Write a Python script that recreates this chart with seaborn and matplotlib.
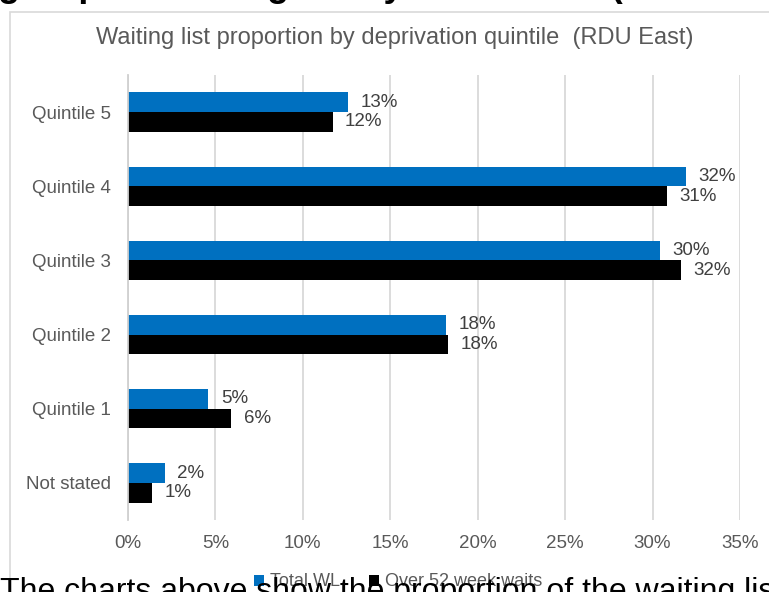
import matplotlib
matplotlib.use("Agg")
import matplotlib.pyplot as plt
from matplotlib.patches import Rectangle
import seaborn as sns
import pandas as pd

# Waiting list shares (%) by deprivation quintile
categories = ["Quintile 5", "Quintile 4", "Quintile 3", "Quintile 2", "Quintile 1", "Not stated"]
total_wl = [12.6, 31.9, 30.4, 18.2, 4.6, 2.1]
over_52_weeks = [11.7, 30.8, 31.6, 18.3, 5.9, 1.4]
series_names = ["Total WL", "Over 52 week waits"]
x_ticks = [0, 5, 10, 15, 20, 25, 30, 35]
x_tick_labels = ["0%", "5%", "10%", "15%", "20%", "25%", "30%", "35%"]

sns.set_theme(style="white")
plt.rcParams["font.family"] = ["Liberation Sans", "DejaVu Sans"]

df = pd.DataFrame({
    "category": categories * 2,
    "series": [series_names[0]] * len(categories) + [series_names[1]] * len(categories),
    "value": total_wl + over_52_weeks,
})

W, H = 769, 592
fig = plt.figure(figsize=(W / 100, H / 100), dpi=100)
ax = fig.add_axes([128 / W, 1 - 520 / H, (740 - 128) / W, (520 - 75) / H])

sns.barplot(
    data=df, y="category", x="value", hue="series",
    order=categories, hue_order=series_names,
    palette=["#0070C0", "#000000"], width=0.53, orient="h",
    saturation=1, errorbar=None, linewidth=0, ax=ax,
)

for container in ax.containers:
    vals = [bar.get_width() for bar in container]
    ax.bar_label(container, labels=[f"{v:.0f}%" for v in vals],
                 padding=9, fontsize=13.5, color="#404040")

ax.set_xlim(0, 35)
ax.set_xticks(x_ticks)
ax.set_xticklabels(x_tick_labels)
ax.set_xlabel("")
ax.set_ylabel("")
ax.tick_params(axis="x", length=0, pad=11, labelsize=13.5, labelcolor="#595959")
ax.tick_params(axis="y", length=0, pad=12, labelsize=13.5, labelcolor="#595959")
ax.xaxis.grid(True, color="#d9d9d9", linewidth=1.3)
ax.set_axisbelow(True)
for side in ["top", "right", "bottom"]:
    ax.spines[side].set_visible(False)
ax.spines["left"].set_color("#d0d0d0")
ax.spines["left"].set_linewidth(1.3)

sns.move_legend(
    ax, "center", bbox_to_anchor=(398 / W, 1 - 582 / H),
    bbox_transform=fig.transFigure, ncol=2, frameon=False, title=None,
    fontsize=13, handlelength=0.55, handleheight=0.55, handletextpad=0.35,
    columnspacing=1.6, labelcolor="#595959",
)

fig.text(395 / W, 1 - 38 / H, "Waiting list proportion by deprivation quintile  (RDU East)",
         ha="center", va="center", fontsize=17, color="#595959")

# Chart frame
fig.add_artist(Rectangle((10 / W, -0.1), 1.0, (H - 12) / H + 0.1,
                         transform=fig.transFigure, fill=False,
                         edgecolor="#d9d9d9", linewidth=1.2))

# Surrounding document text
fig.text(-0.003, 1 + 4 / H, "groups receiving timely treatment? (Data from",
         fontsize=26, fontweight="bold", va="baseline", color="black")
fig.text(0.0, -8 / H, "The charts above show the proportion of the waiting list",
         fontsize=23, va="baseline", color="black")

fig.savefig("out.png", dpi=100)
